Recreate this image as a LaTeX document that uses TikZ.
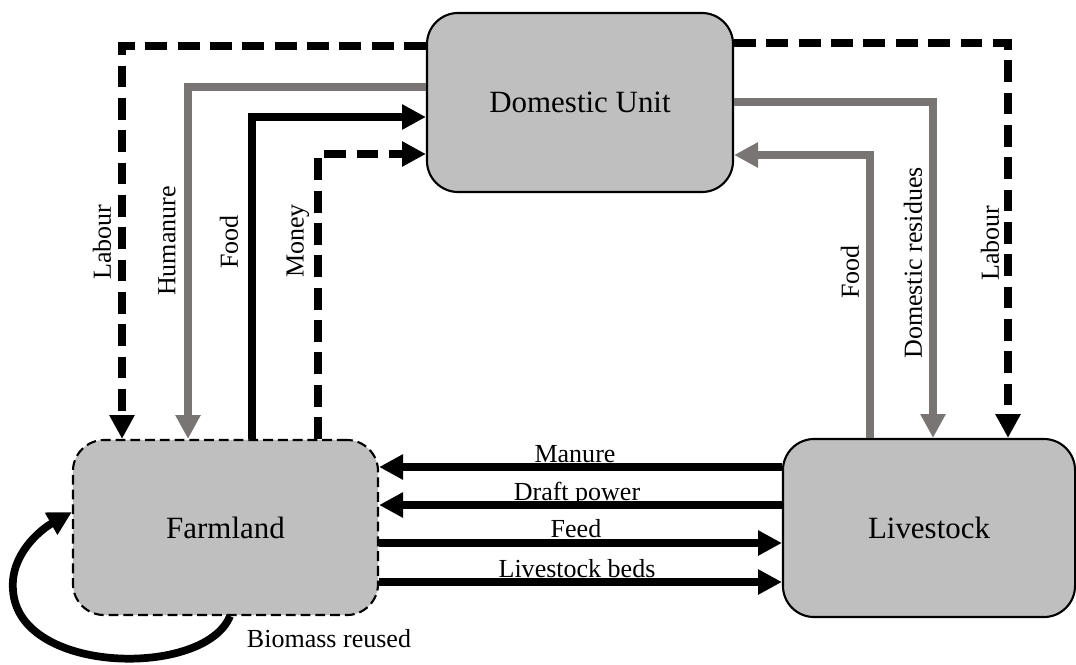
\documentclass[tikz,border=0pt]{standalone}
\usepackage{fontspec}
\setmainfont{Liberation Serif}
\usetikzlibrary{arrows.meta}
\definecolor{boxgrey}{RGB}{191,191,191}
\definecolor{flowgrey}{RGB}{122,117,117}

\begin{document}
\begin{tikzpicture}[x=0.025cm, y=-0.025cm,
box/.style={draw, fill=boxgrey, rounded corners=0.78cm, line width=1.5pt, font=\fontsize{22}{26}\selectfont},
flow/.style={line width=5.5pt, -{Triangle[length=17pt, width=17pt]}},
dashflow/.style={flow, dash pattern=on 15.5pt off 7.5pt},
plainflow/.style={line width=5.5pt},
dashplain/.style={plainflow, dash pattern=on 15.5pt off 7.5pt},
greyflow/.style={flow, draw=flowgrey, -{Triangle[length=17pt, width=17pt, fill=flowgrey]}},
greyplain/.style={plainflow, draw=flowgrey},
lbl/.style={font=\fontsize{18.5}{22}\selectfont, inner sep=0pt},
vlbl/.style={lbl, rotate=90}]
    \useasboundingbox (0,0) rectangle (1076,664);
    % the three units
    \node [box, minimum width=7.65cm, minimum height=4.475cm] (dom) at (580,102.5) {Domestic Unit};
    \node [box, dash pattern=on 7pt off 3.5pt, minimum width=7.625cm, minimum height=4.375cm] (farm) at (225.5,527.5) {Farmland};
    \node [box, minimum width=7.3cm, minimum height=4.45cm] (live) at (929,528) {Livestock};

    % domestic unit <-> farmland
    \draw [dashflow] (dom.west |- 0,46) -| (farm.north -| 122,0);
    \draw [greyflow] (dom.west |- 0,87) -| (farm.north -| 188,0);
    \draw [flow] (farm.north -| 252,0) |- (dom.west |- 0,117);
    \draw [dashflow] (farm.north -| 318,0) |- (dom.west |- 0,154);
    \node [vlbl] (labourl) at (102,242) {Labour};
    \node [vlbl] (humanure) at (167,241) {Humanure};
    \node [vlbl] (foodl) at (229,242) {Food};
    \node [vlbl] (money) at (298,241) {Money};

    % domestic unit <-> livestock
    \draw [dashflow] (dom.east |- 0,43) -| (live.north -| 1008,0);
    \draw [greyflow] (dom.east |- 0,102) -| (live.north -| 933,0);
    \draw [greyflow] (live.north -| 870,0) |- (dom.east |- 0,155);
    \node [vlbl] (foodr) at (850,272) {Food};
    \node [vlbl] (residues) at (913,263) {Domestic residues};
    \node [vlbl] (labourr) at (990,243) {Labour};

    % farmland <-> livestock
    \draw [flow] (live.west |- 0,467) -- (farm.east |- 0,467);
    \draw [flow] (live.west |- 0,505) -- (farm.east |- 0,505);
    \draw [flow] (farm.east |- 0,543) -- (live.west |- 0,543);
    \draw [flow] (farm.east |- 0,582) -- (live.west |- 0,582);
    \node [lbl, anchor=base] (manure) at (575,462) {Manure};
    \node [lbl, anchor=base] (draft) at (577,500) {Draft power};
    \node [lbl, anchor=base] (feed) at (576,537) {Feed};
    \node [lbl, anchor=base] (beds) at (577,577) {Livestock beds};

    % biomass loop
    \draw [flow] (farm.south -| 230,0) .. controls (205,678) and (18,675) .. (13,590)
        .. controls (10,555) and (40,530) .. (farm.west |- 0,512);
    \node [lbl, anchor=base] (biomass) at (329,647) {Biomass reused};
\end{tikzpicture}
\end{document}
